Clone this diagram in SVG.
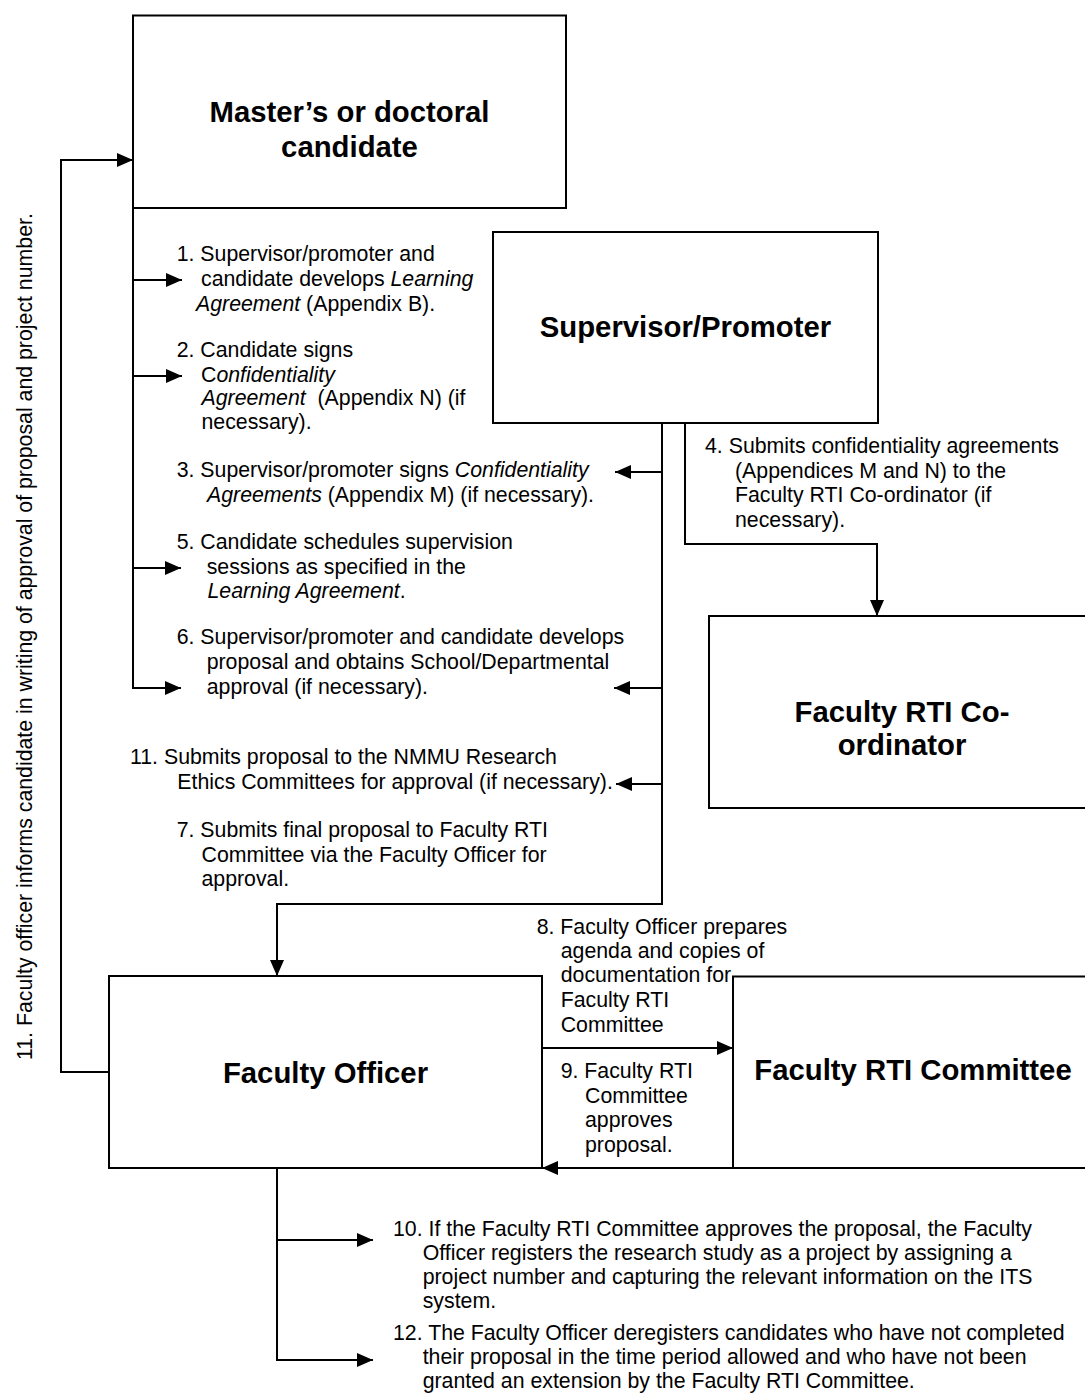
<svg xmlns="http://www.w3.org/2000/svg" width="1085" height="1393" viewBox="0 0 1085 1393">
<defs>
<marker id="ah" markerUnits="userSpaceOnUse" markerWidth="16" markerHeight="14" refX="16" refY="7" orient="auto">
<path d="M0,0 L16,7 L0,14 z" fill="#000"/>
</marker>
<style>
.box{fill:#fff;stroke:#000;stroke-width:2}
.ttl{font-family:"Liberation Sans",Arial,sans-serif;font-size:29.3px;font-weight:bold;text-anchor:middle;fill:#000}
.t{font-family:"Liberation Sans",Arial,sans-serif;font-size:21.3px;fill:#000}
.i{font-style:italic}
.c{fill:none;stroke:#000;stroke-width:2}
.a{fill:none;stroke:#000;stroke-width:2;marker-end:url(#ah)}
</style>
</defs>
<rect width="1085" height="1393" fill="#fff"/>

<g id="connectors">
<path class="a" d="M109,1072 H61 V160 H133"/>
<path class="a" d="M133,208 V688 H181"/>
<path class="a" d="M133,280 H182"/>
<path class="a" d="M133,376 H182"/>
<path class="a" d="M133,568 H181"/>
<path class="a" d="M662,423 V904 H277 V976"/>
<path class="a" d="M662,472 H615"/>
<path class="a" d="M662,688 H614"/>
<path class="a" d="M662,784 H616"/>
<path class="a" d="M685,423 V544 H877 V616"/>
<path class="a" d="M542,1048 H733"/>
<path class="a" d="M733,1168 H542"/>
<path class="a" d="M277,1168 V1360 H373"/>
<path class="a" d="M277,1240 H373"/>
</g>

<g id="node-candidate">
<rect class="box" x="133" y="15.5" width="433" height="192.5"/>
<text class="ttl" x="349.5" y="122">Master’s or doctoral</text>
<text class="ttl" x="349.5" y="157">candidate</text>
</g>
<g id="node-supervisor">
<rect class="box" x="493" y="232" width="385" height="191"/>
<text class="ttl" x="685.5" y="337">Supervisor/Promoter</text>
</g>
<g id="node-coordinator">
<rect class="box" x="709" y="616" width="386" height="192"/>
<text class="ttl" x="902" y="722">Faculty RTI Co-</text>
<text class="ttl" x="902" y="755">ordinator</text>
</g>
<g id="node-officer">
<rect class="box" x="109" y="976" width="433" height="192"/>
<text class="ttl" x="325.5" y="1083">Faculty Officer</text>
</g>
<g id="node-committee">
<rect class="box" x="733" y="976.5" width="362" height="191.5"/>
<text class="ttl" x="913" y="1080">Faculty RTI Committee</text>
</g>

<g id="labels">
<text class="t" transform="translate(31.5,1060) rotate(-90)">11. Faculty officer informs candidate in writing of approval of proposal and project number.</text>

<text class="t" x="176.7" y="261">1. Supervisor/promoter and</text>
<text class="t" x="201" y="286">candidate develops <tspan class="i">Learning</tspan></text>
<text class="t" x="196" y="310.5"><tspan class="i">Agreement</tspan> (Appendix B).</text>

<text class="t" x="176.7" y="357">2. Candidate signs</text>
<text class="t" x="201" y="381.5">C<tspan class="i">onfidentiality</tspan></text>
<text class="t" x="201.5" y="405" xml:space="preserve"><tspan class="i">Agreement</tspan>  (Appendix N) (if</text>
<text class="t" x="201.5" y="429">necessary).</text>

<text class="t" x="176.7" y="477">3. Supervisor/promoter signs <tspan class="i">Confidentiality</tspan></text>
<text class="t" x="207" y="501.5"><tspan class="i">Agreements</tspan> (Appendix M) (if necessary).</text>

<text class="t" x="705" y="452.5">4. Submits confidentiality agreements</text>
<text class="t" x="735" y="477.5">(Appendices M and N) to the</text>
<text class="t" x="735" y="502">Faculty RTI Co-ordinator (if</text>
<text class="t" x="735" y="527">necessary).</text>

<text class="t" x="176.7" y="548.5">5. Candidate schedules supervision</text>
<text class="t" x="206.7" y="573.5">sessions as specified in the</text>
<text class="t" x="207.5" y="598"><tspan class="i">Learning Agreement</tspan>.</text>

<text class="t" x="176.7" y="644">6. Supervisor/promoter and candidate develops</text>
<text class="t" x="206.7" y="669">proposal and obtains School/Departmental</text>
<text class="t" x="206.7" y="694">approval (if necessary).</text>

<text class="t" x="130" y="764">11. Submits proposal to the NMMU Research</text>
<text class="t" x="177.3" y="789">Ethics Committees for approval (if necessary).</text>

<text class="t" x="176.7" y="836.7">7. Submits final proposal to Faculty RTI</text>
<text class="t" x="201.5" y="861.5">Committee via the Faculty Officer for</text>
<text class="t" x="201.5" y="885.5">approval.</text>

<text class="t" x="536.7" y="933.5">8. Faculty Officer prepares</text>
<text class="t" x="560.7" y="958">agenda and copies of</text>
<text class="t" x="560.7" y="982">documentation for</text>
<text class="t" x="560.7" y="1007">Faculty RTI</text>
<text class="t" x="560.7" y="1031.5">Committee</text>

<text class="t" x="560.7" y="1078">9. Faculty RTI</text>
<text class="t" x="585" y="1102.5">Committee</text>
<text class="t" x="585" y="1127">approves</text>
<text class="t" x="585" y="1151.5">proposal.</text>

<text class="t" x="393" y="1236">10. If the Faculty RTI Committee approves the proposal, the Faculty</text>
<text class="t" x="422.7" y="1260">Officer registers the research study as a project by assigning a</text>
<text class="t" x="422.7" y="1284">project number and capturing the relevant information on the ITS</text>
<text class="t" x="422.7" y="1308">system.</text>

<text class="t" x="393" y="1340">12. The Faculty Officer deregisters candidates who have not completed</text>
<text class="t" x="422.7" y="1364">their proposal in the time period allowed and who have not been</text>
<text class="t" x="422.7" y="1388">granted an extension by the Faculty RTI Committee.</text>
</g>
</svg>
